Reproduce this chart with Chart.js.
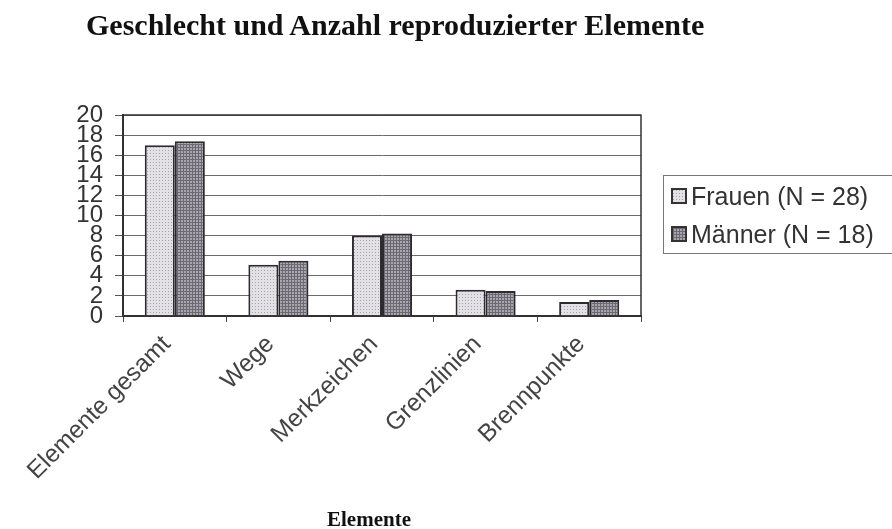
<!DOCTYPE html>
<html lang="de">
<head>
<meta charset="UTF-8">
<title>Geschlecht und Anzahl reproduzierter Elemente</title>
<script src="https://cdn.jsdelivr.net/npm/chart.js@4.4.1/dist/chart.umd.min.js"></script>
<style>
  body { margin: 0; background: #fff; overflow: hidden; }
  #wrap { position: relative; width: 892px; height: 529px; }
  #chart { position: absolute; left: 0; top: 0; }
  .title { position: absolute; left: 86px; top: 8px; font: bold 30px "Liberation Serif", serif; color: #111; white-space: nowrap; }
  .xtitle { position: absolute; left: 327px; top: 507px; font: bold 21px "Liberation Serif", serif; color: #111; }
  .legend { position: absolute; left: 663px; top: 175px; width: 240px; height: 77px; border: 1px solid #777; }
  .legend .row { position: absolute; left: 7px; height: 30px; display: flex; align-items: center; font: 25px "Liberation Sans", Arial, sans-serif; color: #333; white-space: nowrap; }
  .legend .sw { width: 12px; height: 12px; border: 2px solid #333; margin-right: 4px; }
</style>
</head>
<body>
<div id="wrap">
  <canvas id="chart" width="892" height="529"></canvas>
  <div class="title">Geschlecht und Anzahl reproduzierter Elemente</div>
  <div class="xtitle">Elemente</div>
  <div class="legend" id="legend"></div>
</div>

<script>
// data
const categories = ['Elemente gesamt', 'Wege', 'Merkzeichen', 'Grenzlinien', 'Brennpunkte'];
const seriesNames = ['Frauen (N = 28)', 'Männer (N = 18)'];
const frauen = [17.0, 5.1, 8.0, 2.6, 1.4];
const maenner = [17.4, 5.5, 8.2, 2.5, 1.6];
const yMax = 20;
const yStep = 2;

// small textures like the scanned excel fills
function makeTile(base, ink, grid) {
    const c = document.createElement('canvas');
    c.width = 3; c.height = 3;
    const g = c.getContext('2d');
    g.fillStyle = base;
    g.fillRect(0, 0, 3, 3);
    g.fillStyle = ink;
    if (grid) {
        g.fillRect(0, 0, 3, 1);
        g.fillRect(0, 0, 1, 3);
    } else {
        g.fillRect(0, 0, 1, 1);
    }
    return c;
}
const tileF = makeTile('#e3e1e6', '#a6a3ab', false);
const tileM = makeTile('#aaa6ad', '#6d6973', true);
const ctx = document.getElementById('chart').getContext('2d');
const fillF = ctx.createPattern(tileF, 'repeat');
const fillM = ctx.createPattern(tileM, 'repeat');

// legend (html, with border box like the original)
const legend = document.getElementById('legend');
[[seriesNames[0], tileF, 5], [seriesNames[1], tileM, 43]].forEach(([name, tile, top]) => {
    const row = document.createElement('div');
    row.className = 'row';
    row.style.top = top + 'px';
    const sw = document.createElement('span');
    sw.className = 'sw';
    sw.style.background = 'url(' + tile.toDataURL() + ')';
    row.appendChild(sw);
    row.appendChild(document.createTextNode(name));
    legend.appendChild(row);
});

// frame around the plot area
const framePlugin = {
    id: 'frame',
    afterDraw(chart) {
        const a = chart.chartArea;
        const c = chart.ctx;
        c.save();
        c.strokeStyle = '#333';
        c.lineWidth = 1.5;
        c.strokeRect(a.left, a.top, a.right - a.left, a.bottom - a.top);
        c.restore();
    }
};

new Chart(ctx, {
    type: 'bar',
    data: {
        labels: categories,
        datasets: [
            { label: seriesNames[0], data: frauen, backgroundColor: fillF, borderColor: '#2e2b30', borderWidth: 2 },
            { label: seriesNames[1], data: maenner, backgroundColor: fillM, borderColor: '#2e2b30', borderWidth: 2 }
        ]
    },
    options: {
        responsive: false,
        animation: false,
        categoryPercentage: 0.58,
        barPercentage: 1.0,
        layout: { padding: { top: 115, right: 251, left: 0, bottom: 0 } },
        plugins: {
            legend: { display: false },
            tooltip: { enabled: false }
        },
        scales: {
            x: {
                grid: { drawOnChartArea: false, tickLength: 6, color: '#444' },
                border: { color: '#333', width: 2 },
                ticks: {
                    minRotation: 45, maxRotation: 45, autoSkip: false,
                    color: '#444', padding: 8, labelOffset: -8,
                    font: { family: 'Liberation Sans', size: 24.5 }
                },
                afterFit(s) { s.height = 213; }
            },
            y: {
                min: 0, max: yMax,
                grid: { color: '#6a6a6a', lineWidth: 1, tickLength: 8, tickColor: '#555' },
                border: { color: '#333', width: 2 },
                ticks: {
                    stepSize: yStep, autoSkip: false,
                    color: '#333', padding: 12,
                    font: { family: 'Liberation Sans', size: 24 }
                },
                afterFit(s) { s.width = 123; }
            }
        }
    },
    plugins: [framePlugin]
});
</script>
</body>
</html>
